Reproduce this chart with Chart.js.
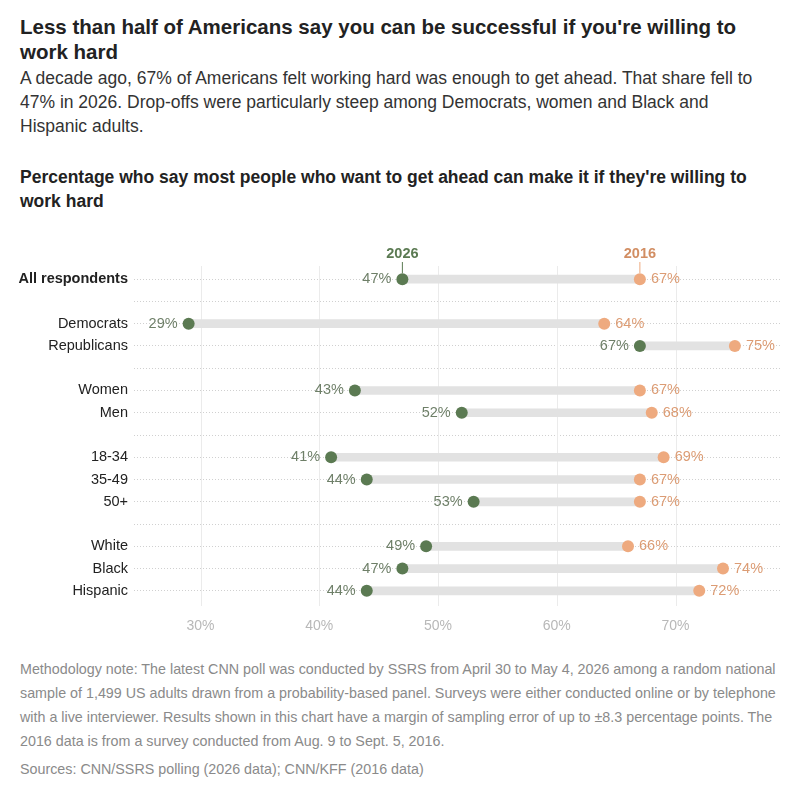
<!DOCTYPE html>
<html><head><meta charset="utf-8">
<script src="https://cdn.jsdelivr.net/npm/chart.js@4"></script>
<style>
body{margin:0;background:#fff;font-family:"Liberation Sans",Arial,sans-serif;color:#222;width:800px}
h1{font-size:20.5px;font-weight:bold;margin:0;position:absolute;left:20px;top:14px;width:760px;line-height:25px}
.sub{position:absolute;left:20px;top:66px;width:760px;font-size:17.5px;line-height:24px;color:#333}
h2{position:absolute;left:20px;top:165px;width:760px;font-size:17.5px;font-weight:bold;line-height:24px;margin:0}
#wrap{position:absolute;left:0;top:240px;width:800px;height:390px}
.note{position:absolute;left:20px;top:657px;width:770px;font-size:14.3px;line-height:24px;color:#8a8a8a}
.src{position:absolute;left:20px;top:761px;font-size:14.3px;color:#8a8a8a}
</style></head><body>
<h1>Less than half of Americans say you can be successful if you're willing to work hard</h1>
<div class="sub">A decade ago, 67% of Americans felt working hard was enough to get ahead. That share fell to 47% in 2026. Drop-offs were particularly steep among Democrats, women and Black and Hispanic adults.</div>
<h2>Percentage who say most people who want to get ahead can make it if they're willing to work hard</h2>
<div id="wrap"><canvas id="c" width="800" height="390"></canvas></div>
<div class="note">Methodology note: The latest CNN poll was conducted by SSRS from April 30 to May 4, 2026 among a random national sample of 1,499 US adults drawn from a probability-based panel. Surveys were either conducted online or by telephone with a live interviewer. Results shown in this chart have a margin of sampling error of up to ±8.3 percentage points. The 2016 data is from a survey conducted from Aug. 9 to Sept. 5, 2016.</div>
<div class="src">Sources: CNN/SSRS polling (2026 data); CNN/KFF (2016 data)</div>
<script>
const groups = ['All respondents', '', 'Democrats', 'Republicans', ' ', 'Women', 'Men', '  ', '18-34', '35-49', '50+', '   ', 'White', 'Black', 'Hispanic'];
const values2026 = [47, null, 29, 67, null, 43, 52, null, 41, 44, 53, null, 49, 47, 44];
const values2016 = [67, null, 64, 75, null, 67, 68, null, 69, 67, 67, null, 66, 74, 72];
const xTicks = [30, 40, 50, 60, 70];

const GREEN = '#5b7a52', ORANGE = '#eeaa7f';

const toPts = arr => arr.map((v, i) => v === null ? null : {x: v, y: groups[i]}).filter(p => p);

const overlay = {
  id: 'overlay',
  beforeDatasetsDraw(chart) {
    const {ctx, scales: {x, y}} = chart;
    ctx.save();
    ctx.strokeStyle = '#ebebeb';
    ctx.lineWidth = 1;
    xTicks.forEach(t => {
      const px = Math.round(x.getPixelForValue(t)) + 0.5;
      ctx.beginPath(); ctx.moveTo(px, 26); ctx.lineTo(px, 366); ctx.stroke();
    });
    ctx.restore();
  },
  afterDatasetsDraw(chart) {
    const {ctx, scales: {x, y}} = chart;
    ctx.save();
    ctx.font = '14.5px "Liberation Sans", Arial, sans-serif';
    ctx.textBaseline = 'middle';
    groups.forEach((g, i) => {
      if (values2026[i] === null) return;
      const py = y.getPixelForValue(i);
      ctx.fillStyle = '#6e7f68';
      ctx.textAlign = 'right';
      ctx.fillText(values2026[i] + '%', x.getPixelForValue(values2026[i]) - 11, py);
      ctx.fillStyle = '#dc9c74';
      ctx.textAlign = 'left';
      ctx.fillText(values2016[i] + '%', x.getPixelForValue(values2016[i]) + 11, py);
    });
    // column headers
    const py0 = y.getPixelForValue(0);
    ctx.font = 'bold 14.5px "Liberation Sans", Arial, sans-serif';
    ctx.textAlign = 'center';
    ctx.textBaseline = 'middle';
    [[values2026[0], '2026', GREEN, '#5b7a52'], [values2016[0], '2016', ORANGE, '#d28e63']].forEach(([v, t, c, tc]) => {
      const px = x.getPixelForValue(v);
      ctx.fillStyle = tc;
      ctx.fillText(t, px, 14);
      ctx.strokeStyle = c; ctx.lineWidth = 1;
      ctx.beginPath(); ctx.moveTo(px, 22); ctx.lineTo(px, py0 - 6); ctx.stroke();
    });
    ctx.restore();
  }
};

new Chart(document.getElementById('c'), {
  data: {
    labels: groups,
    datasets: [
      {type: 'scatter', data: toPts(values2026), backgroundColor: GREEN, borderWidth: 0, pointRadius: 6, order: 0},
      {type: 'scatter', data: toPts(values2016), backgroundColor: ORANGE, borderWidth: 0, pointRadius: 6, order: 0},
      {type: 'bar', data: values2026.map((v, i) => v === null ? null : [v, values2016[i]]),
       backgroundColor: '#e2e2e2', barThickness: 8, order: 1}
    ]
  },
  options: {
    indexAxis: 'y',
    responsive: false,
    animation: false,
    layout: {padding: {top: 28, right: 20, left: 0, bottom: 0}},
    plugins: {legend: {display: false}, tooltip: {enabled: false}},
    scales: {
      x: {
        type: 'linear', min: 24.4, max: 78.8,
        afterBuildTicks: s => { s.ticks = xTicks.map(v => ({value: v})); },
        afterFit: s => { s.height = 28; },
        grid: {display: false},
        border: {display: false},
        ticks: {callback: v => v + '%', color: '#b8b8b8', padding: 8,
                font: {size: 14, family: '"Liberation Sans", Arial, sans-serif'}}
      },
      y: {
        type: 'category', labels: groups, offset: true,
        afterFit: s => { s.width = 134; },
        grid: {offset: false, color: '#d0d0d0', drawTicks: false},
        border: {display: false, dash: [1, 2]},
        ticks: {color: '#222', padding: 6,
                font: ctx => ({size: 14.5, family: '"Liberation Sans", Arial, sans-serif', weight: ctx.index === 0 ? 'bold' : 'normal'})}
      }
    }
  },
  plugins: [overlay]
});
</script>
</body></html>
